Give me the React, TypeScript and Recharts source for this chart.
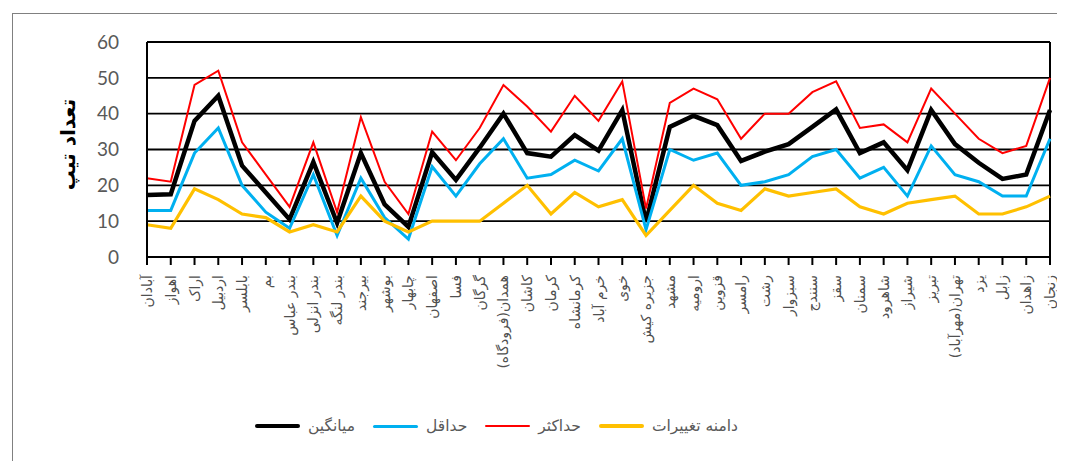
import {
  CartesianGrid,
  Legend,
  Line,
  LineChart,
  ReferenceLine,
  XAxis,
  YAxis,
} from 'recharts'

const cities = [
  'آبادان', 'اهواز', 'اراک', 'اردبیل', 'بابلسر', 'بم', 'بندر عباس', 'بندر انزلی',
  'بندر لنگه', 'بیرجند', 'بوشهر', 'چابهار', 'اصفهان', 'فسا', 'گرگان', 'همدان(فرودگاه)',
  'کاشان', 'کرمان', 'کرمانشاه', 'خرم آباد', 'خوی', 'جزیره کیش', 'مشهد', 'ارومیه',
  'قزوین', 'رامسر', 'رشت', 'سبزوار', 'سنندج', 'سقز', 'سمنان', 'شاهرود', 'شیراز',
  'تبریز', 'تهران(مهرآباد)', 'یزد', 'زابل', 'زاهدان', 'زنجان',
]

const avgValues = [
  17.3, 17.5, 38, 45, 25.5, 18, 10.5, 26.5, 9.5, 29, 14.7, 8.4, 29.2, 21.5, 30.5, 40,
  29, 28, 34, 29.7, 41, 9.8, 36.3, 39.4, 36.8, 26.8, 29.4, 31.5, 36.3, 41.2, 29, 32,
  24.2, 41, 31.5, 26.3, 21.8, 23, 41,
]
const minValues = [
  13, 13, 29, 36, 20, 12.5, 8, 23, 6, 22, 11, 5, 25.2, 17, 26, 33, 22, 23, 27, 24, 33,
  7.6, 30, 27, 29, 20, 21, 23, 28, 30, 22, 25, 17, 31, 23, 21, 17, 17, 33,
]
const maxValues = [
  22, 21, 48, 52, 32, 23, 14, 32, 12.5, 39, 21, 12, 35, 27, 36, 48, 42, 35, 45, 38, 49,
  13.5, 43, 47, 44, 33, 40, 40, 46, 49, 36, 37, 32, 47, 40, 33, 29, 31, 50,
]
const rangeValues = [
  9, 8, 19, 16, 12, 11, 7, 9, 7, 17, 10, 7, 10, 10, 10, 15, 20, 12, 18, 14, 16, 6, 13,
  20, 15, 13, 19, 17, 18, 19, 14, 12, 15, 16, 17, 12, 12, 14, 17,
]
const yTicks = [0, 10, 20, 30, 40, 50, 60]

const series = [
  { key: 'avg', name: 'میانگین', color: '#000000', width: 4.5 },
  { key: 'min', name: 'حداقل', color: '#00B0F0', width: 3 },
  { key: 'max', name: 'حداکثر', color: '#FF0000', width: 2 },
  { key: 'range', name: 'دامنه تغییرات', color: '#FFC000', width: 3.2 },
]

const data = cities.map((city, i) => ({
  city,
  avg: avgValues[i],
  min: minValues[i],
  max: maxValues[i],
  range: rangeValues[i],
}))

const persianFont = '"DejaVu Sans", sans-serif'

function CityTick(props: any) {
  const { x, y, payload } = props
  const ty = y + 8
  return (
    <text
      x={x}
      y={ty}
      transform={`rotate(-90, ${x}, ${ty})`}
      textAnchor="start"
      direction="rtl"
      dominantBaseline="central"
      fontSize={14}
      fontFamily={persianFont}
      fill="#505050"
    >
      {payload.value}
    </text>
  )
}

function AxisTitle(props: any) {
  const { viewBox } = props
  const x = viewBox.x + 60
  const y = viewBox.y + viewBox.height / 2 - 5
  return (
    <text
      x={x}
      y={y}
      transform={`rotate(-90, ${x}, ${y})`}
      textAnchor="middle"
      dominantBaseline="central"
      fontSize={20}
      fontWeight="bold"
      fontFamily={persianFont}
      fill="#000"
    >
      تعداد تیپ
    </text>
  )
}

function SeriesLegend() {
  return (
    <div style={{ display: 'flex', alignItems: 'center', gap: 18 }}>
      {series.map((s) => (
        <div key={s.key} style={{ display: 'flex', alignItems: 'center' }}>
          <span
            style={{
              display: 'inline-block',
              width: 45,
              height: s.width,
              borderRadius: 3,
              background: s.color,
              marginRight: 8,
            }}
          />
          <span style={{ fontFamily: persianFont, fontSize: 15.5, color: '#595959' }}>
            {s.name}
          </span>
        </div>
      ))}
    </div>
  )
}

export default function App() {
  return (
    <div style={{ position: 'relative', width: 1057, height: 453, background: '#fff' }}>
      <div
        style={{
          position: 'absolute',
          left: 4,
          top: 5,
          width: 1053,
          height: 448,
          borderTop: '1.5px solid #808080',
          borderLeft: '1.5px solid #808080',
          boxSizing: 'border-box',
        }}
      />
      <LineChart
        width={1057}
        height={453}
        data={data}
        margin={{ top: 34, right: 15, left: 0, bottom: 54 }}
      >
        <CartesianGrid vertical={false} stroke="#000" strokeWidth={1.8} />
        <XAxis
          dataKey="city"
          interval={0}
          height={150}
          tickSize={8}
          tickLine={{ stroke: '#000', strokeWidth: 2 }}
          axisLine={{ stroke: '#000', strokeWidth: 2 }}
          tick={<CityTick />}
        />
        <YAxis
          width={139}
          domain={[0, 60]}
          ticks={yTicks}
          tickLine={false}
          tickMargin={22}
          axisLine={{ stroke: '#000', strokeWidth: 2 }}
          tick={{ fontSize: 19, fill: '#595959', fontFamily: 'Lato, sans-serif' }}
          label={{ content: <AxisTitle /> }}
        />
        <ReferenceLine x={cities[cities.length - 1]} stroke="#000" strokeWidth={2} />
        {series.map((s) => (
          <Line
            key={s.key}
            type="linear"
            dataKey={s.key}
            name={s.name}
            stroke={s.color}
            strokeWidth={s.width}
            dot={false}
            isAnimationActive={false}
          />
        ))}
        <Legend
          verticalAlign="middle"
          align="center"
          layout="horizontal"
          content={<SeriesLegend />}
          wrapperStyle={{ top: 409, left: 247, width: 'auto' }}
        />
      </LineChart>
    </div>
  )
}
